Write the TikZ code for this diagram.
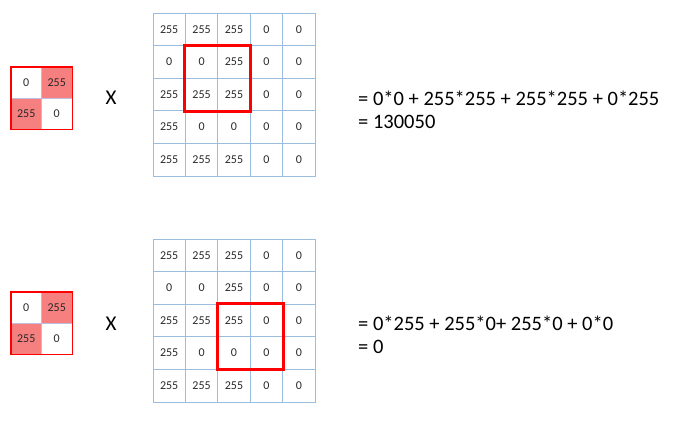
\documentclass[tikz,border=0pt]{standalone}
\usepackage{fontspec}
\setmainfont{Carlito}
\definecolor{gridblue}{RGB}{155,190,222}
\definecolor{kfill}{RGB}{246,128,128}
\definecolor{klines}{RGB}{190,190,225}
\definecolor{numcol}{RGB}{40,40,40}
\tikzset{
  cell/.style={rectangle, draw=gridblue, line width=0.9pt, minimum width=32.4pt, minimum height=32.6pt, inner sep=0pt, font=\fontsize{12}{14}\selectfont, text=numcol},
  kcell/.style={rectangle, draw=klines, line width=0.8pt, minimum width=30.5pt, minimum height=31pt, inner sep=0pt, font=\fontsize{12}{14}\selectfont, text=numcol},
  kon/.style={fill=kfill},
  kborder/.style={draw=red, line width=1.8pt},
  window/.style={draw=red, line width=3pt},
  times/.style={font=\fontsize{21}{24}\selectfont},
  eq/.style={anchor=west, inner sep=0pt, font=\fontsize{20.5}{24}\selectfont}
}
\begin{document}
\begin{tikzpicture}[x=1pt,y=-1pt]
\useasboundingbox (0,0) rectangle (677,423);
% grids
\foreach \g/\oy in {t/13, b/239}{
  \foreach \row [count=\r from 0] in {{255,255,255,0,0},{0,0,255,0,0},{255,255,255,0,0},{255,0,0,0,0},{255,255,255,0,0}}{
    \foreach \v [count=\c from 0] in \row {
      \node[cell] (\g-\r-\c) at ({153+32.4*(\c+0.5)},{\oy+32.6*(\r+0.5)}) {\v};
    }
  }
}
% kernels
\foreach \k/\oy in {kt/67, kb/292}{
  \node[kcell] (\k-0-0) at ({11+30.5*0.5},{\oy+31*0.5}) {0};
  \node[kcell,kon] (\k-0-1) at ({11+30.5*1.5},{\oy+31*0.5}) {255};
  \node[kcell,kon] (\k-1-0) at ({11+30.5*0.5},{\oy+31*1.5}) {255};
  \node[kcell] (\k-1-1) at ({11+30.5*1.5},{\oy+31*1.5}) {0};
  \draw[kborder] (\k-0-0.north west) rectangle (\k-1-1.south east);
}
% sliding windows
\draw[window] (t-1-1.north west) rectangle (t-2-2.south east);
\draw[window] (b-2-2.north west) rectangle (b-3-3.south east);
% multiplication signs
\node[times] (xt) at (111,98) {X};
\node[times] (xb) at (111,324) {X};
% equations
\node[eq] (e1a) at (358,98) {= 0*0 + 255*255 + 255*255 + 0*255};
\node[eq] (e1b) at (358,122) {= 130050};
\node[eq] (e2a) at (358,323) {= 0*255 + 255*0+ 255*0 + 0*0};
\node[eq] (e2b) at (358,347) {= 0};
\end{tikzpicture}
\end{document}
